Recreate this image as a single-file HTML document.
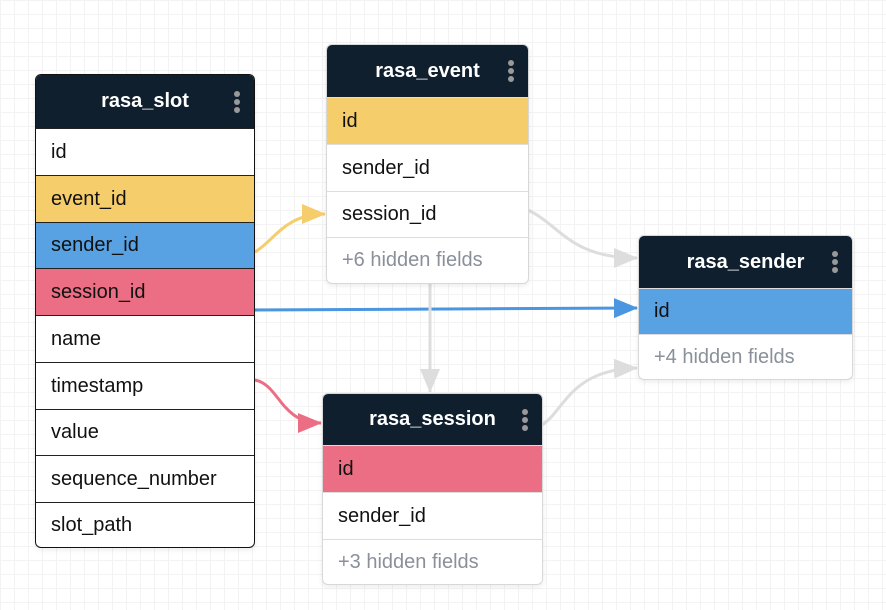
<!DOCTYPE html>
<html><head><meta charset="utf-8"><style>
body{margin:0;width:886px;height:610px;overflow:hidden;background:#fff;
background-image:linear-gradient(#f3f3f3 1px,transparent 1px),linear-gradient(90deg,#f3f3f3 1px,transparent 1px);background-size:14px 14px;
font-family:"Liberation Sans","DejaVu Sans",sans-serif;position:relative}
.t{position:absolute;background:#fff;border:1px solid #d8d8d8;border-radius:6px;overflow:hidden;box-shadow:0 2px 6px rgba(0,0,0,.08)}
.t.sel{border:1px solid #111}
.h{background:#0f1f2e;color:#fff;font-weight:bold;font-size:20px;position:relative;box-sizing:border-box;display:flex;align-items:center;justify-content:center}
.h .d{position:absolute;right:14px;top:50%;transform:translateY(-50%);width:6px}
.h .d i{display:block;width:6px;height:6px;border-radius:3px;background:#999;margin:2px 0}
.r{box-sizing:border-box;border-top:1px solid #ddd;padding-left:15px;font-size:20px;color:#111;display:flex;align-items:center}
.sel .r{border-top:1px solid #222}
.y{background:#f6cd6b}.b{background:#58a1e3}.p{background:#ec6e84}
.g{color:#8a9099}
svg{position:absolute;left:0;top:0}
</style></head><body>
<svg width="886" height="610">
<defs>
<marker id="ay" markerWidth="24" markerHeight="20" refX="23" refY="10" orient="auto" markerUnits="userSpaceOnUse"><path d="M0,0L24,10L0,20z" fill="#f6cd6b"/></marker>
<marker id="ab" markerWidth="24" markerHeight="20" refX="23" refY="10" orient="auto" markerUnits="userSpaceOnUse"><path d="M0,0L24,10L0,20z" fill="#4a96e0"/></marker>
<marker id="ap" markerWidth="24" markerHeight="20" refX="23" refY="10" orient="auto" markerUnits="userSpaceOnUse"><path d="M0,0L24,10L0,20z" fill="#ec6e84"/></marker>
<marker id="ag" markerWidth="24" markerHeight="20" refX="23" refY="10" orient="auto" markerUnits="userSpaceOnUse"><path d="M0,0L24,10L0,20z" fill="#ddd"/></marker>
</defs>
<path d="M255,252 C275,240 285,214 325,214" stroke="#f6cd6b" stroke-width="3" fill="none" marker-end="url(#ay)"/>
<path d="M255,310 L637,308" stroke="#4a96e0" stroke-width="3" fill="none" marker-end="url(#ab)"/>
<path d="M255,380 C280,385 280,423 321,423" stroke="#ec6e84" stroke-width="3" fill="none" marker-end="url(#ap)"/>
<path d="M528,210 C560,225 570,258 637,258" stroke="#ddd" stroke-width="3" fill="none" marker-end="url(#ag)"/>
<path d="M430,284 L430,392" stroke="#ddd" stroke-width="3" fill="none" marker-end="url(#ag)"/>
<path d="M542,425 C565,410 570,370 637,368" stroke="#ddd" stroke-width="3" fill="none" marker-end="url(#ag)"/>
</svg>
<div class="t sel" style="left:35px;top:74px;width:218px">
<div class="h" style="height:53px">rasa_slot<span class="d"><i></i><i></i><i></i></span></div>
<div class="r" style="height:47px">id</div>
<div class="r y" style="height:47px">event_id</div>
<div class="r b" style="height:46px">sender_id</div>
<div class="r p" style="height:47px">session_id</div>
<div class="r" style="height:47px">name</div>
<div class="r" style="height:47px">timestamp</div>
<div class="r" style="height:46px">value</div>
<div class="r" style="height:47px">sequence_number</div>
<div class="r" style="height:45px">slot_path</div>
</div>
<div class="t" style="left:326px;top:44px;width:201px">
<div class="h" style="height:52px">rasa_event<span class="d"><i></i><i></i><i></i></span></div>
<div class="r y" style="height:47px">id</div>
<div class="r" style="height:47px">sender_id</div>
<div class="r" style="height:46px">session_id</div>
<div class="r g" style="height:46px">+6 hidden fields</div>
</div>
<div class="t" style="left:638px;top:235px;width:213px">
<div class="h" style="height:52px">rasa_sender<span class="d"><i></i><i></i><i></i></span></div>
<div class="r b" style="height:46px">id</div>
<div class="r g" style="height:45px">+4 hidden fields</div>
</div>
<div class="t" style="left:322px;top:393px;width:219px">
<div class="h" style="height:51px">rasa_session<span class="d"><i></i><i></i><i></i></span></div>
<div class="r p" style="height:47px">id</div>
<div class="r" style="height:47px">sender_id</div>
<div class="r g" style="height:45px">+3 hidden fields</div>
</div>
</body></html>
